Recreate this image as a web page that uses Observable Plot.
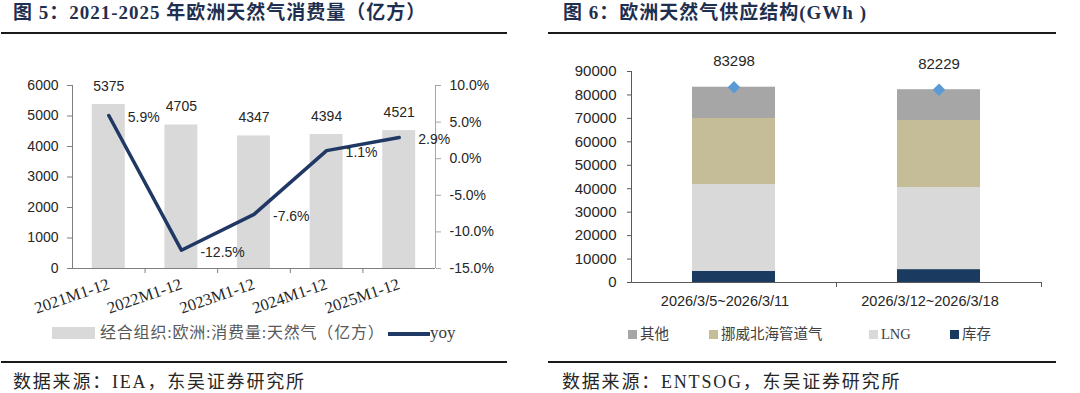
<!DOCTYPE html>
<html><head><meta charset="utf-8">
<script src="https://cdn.jsdelivr.net/npm/d3@7"></script>
<script src="https://cdn.jsdelivr.net/npm/@observablehq/plot@0.6"></script>
<style>
body{margin:0;background:#fff;}
#page{position:relative;width:1080px;height:393px;overflow:hidden;background:#fff;}
.abs{position:absolute;white-space:nowrap;}
.title{font-family:"Liberation Serif","Noto Sans CJK SC",serif;font-weight:bold;font-size:19px;line-height:19px;color:#1f2f4f;letter-spacing:1px;}
.rule{height:2px;background:#1a1a1a;}
.source{font-family:"Liberation Serif","Noto Sans CJK SC",serif;font-size:18px;line-height:18px;color:#262626;letter-spacing:1.8px;}
.leg{font-family:"Liberation Serif","Noto Sans CJK SC",serif;color:#595959;}
.chart{position:absolute;width:540px;height:280px;}
.chart svg{position:absolute;left:0;top:0;}
</style></head><body><div id="page">
<div class="abs title" style="left:13px;top:3px;">图 5：2021-2025 年欧洲天然气消费量（亿方）</div>
<div class="abs rule" style="left:1px;top:32px;width:506px;"></div>
<div class="abs title" style="left:563px;top:3px;">图 6：欧洲天然气供应结构(GWh )</div>
<div class="abs rule" style="left:548px;top:32px;width:508px;"></div>
<div id="left" class="chart" style="left:0;top:40px;"></div>
<div id="right" class="chart" style="left:540px;top:40px;"></div>
<div id="legL"></div>
<div id="legR"></div>
<div class="abs rule" style="left:1px;top:361px;width:506px;"></div>
<div class="abs rule" style="left:548px;top:361px;width:508px;"></div>
<div class="abs source" style="left:13px;top:373px;">数据来源：IEA，东吴证券研究所</div>
<div class="abs source" style="left:562px;top:373px;">数据来源：ENTSOG，东吴证券研究所</div>
</div>
<script>
// ---- Figure 5 data ----
const years = ["2021M1-12","2022M1-12","2023M1-12","2024M1-12","2025M1-12"];
const consumption = [5375, 4705, 4347, 4394, 4521];
const yoy = [5.9, -12.5, -7.6, 1.1, 2.9];
const leftYTicks = [0,1000,2000,3000,4000,5000,6000];
const rightYTicks = [-15,-10,-5,0,5,10];
const barLegend = "经合组织:欧洲:消费量:天然气（亿方）";
const lineLegend = "yoy";

// ---- Figure 6 data ----
const periods = ["2026/3/5~2026/3/11","2026/3/12~2026/3/18"];
const seriesNames = ["库存","LNG","挪威北海管道气","其他"];
const storage = [4700, 5500];
const lng = [37100, 35000];
const norway = [28150, 28600];
const other = [13348, 13129];
const totals = [83298, 82229];
const supplyTicks = [0,10000,20000,30000,40000,50000,60000,70000,80000,90000];
const seriesColors = ["#1b3a5f","#d9d9d9","#c4bd97","#a6a6a6"];

const SANS = "'Liberation Sans', Arial, sans-serif";
const SERIF = "'Liberation Serif', 'Noto Sans CJK SC', serif";
const idx = years.map((d,i)=>i);

const common = {width:540, height:280, marginLeft:72, marginRight:105, marginTop:45, marginBottom:52};

const bars = Plot.plot({
  ...common,
  x:{type:"linear", domain:[-0.5,4.5]},
  y:{domain:[0,6000]},
  style:{background:"transparent", fontFamily:SANS, fontSize:"14px", color:"#262626", overflow:"visible"},
  marks:[
    Plot.rectY(idx,{x1:i=>i-0.227, x2:i=>i+0.227, y:i=>consumption[i], fill:"#d9d9d9"}),
    Plot.text(idx,{x:i=>i, y:i=>consumption[i], text:i=>String(consumption[i]), dy:-18, fontSize:14, fill:"#262626"}),
    Plot.ruleX([-0.5],{stroke:"#7f7f7f"}),
    Plot.ruleY([0],{stroke:"#7f7f7f"}),
    Plot.axisY({ticks:leftYTicks, tickSize:5, tickPadding:9, tickFormat:d3.format("d"), label:null, stroke:"#7f7f7f", fill:"#262626"}),
    Plot.axisX({ticks:[0.5,1.5,2.5,3.5], tickSize:5, tickFormat:()=>"", label:null, stroke:"#7f7f7f"}),
    Plot.axisX({ticks:idx, tickSize:0, tickPadding:15, tickRotate:-19, tickFormat:i=>years[i], label:null, fontFamily:SERIF, fontSize:16.5, fill:"#262626"})
  ]
});

const line = Plot.plot({
  ...common,
  x:{type:"linear", domain:[-0.5,4.5], axis:null},
  y:{domain:[-15,10]},
  style:{background:"transparent", fontFamily:SANS, fontSize:"14px", color:"#262626", overflow:"visible"},
  marks:[
    Plot.ruleX([4.5],{stroke:"#a6a6a6"}),
    Plot.axisY({anchor:"right", ticks:rightYTicks, tickSize:5, tickPadding:9, tickFormat:d=>d.toFixed(1)+"%", label:null, stroke:"#a6a6a6", fill:"#262626"}),
    Plot.line(idx,{x:i=>i, y:i=>yoy[i], stroke:"#1f3864", strokeWidth:3.5}),
    Plot.text(idx,{x:i=>i, y:i=>yoy[i], text:i=>yoy[i].toFixed(1)+"%", textAnchor:"start", dx:19, dy:2, fontSize:14, fill:"#262626"})
  ]
});

document.getElementById("left").append(bars, line);

// ---- Figure 6 ----
const seriesValues = [storage, lng, norway, other];
const stackData = seriesNames.flatMap((s,k)=>periods.map((p,i)=>({i, s, v:seriesValues[k][i]})));
const pIdx = periods.map((d,i)=>i);

const stacked = Plot.plot({
  width:540, height:280, marginLeft:91, marginRight:39, marginTop:31, marginBottom:38,
  x:{type:"linear", domain:[-0.5,1.5]},
  y:{domain:[0,90000]},
  color:{domain:seriesNames, range:seriesColors},
  style:{background:"transparent", fontFamily:SANS, fontSize:"15px", color:"#262626", overflow:"visible"},
  marks:[
    Plot.rectY(stackData,{x1:d=>d.i-0.2025, x2:d=>d.i+0.2025, y:"v", fill:"s"}),
    Plot.ruleX([-0.5],{stroke:"#595959"}),
    Plot.ruleY([0],{stroke:"#595959"}),
    Plot.axisY({ticks:supplyTicks, tickSize:4, tickPadding:11, tickFormat:d3.format("d"), label:null, stroke:"#595959", fill:"#262626", fontSize:15}),
    Plot.axisX({ticks:[0.5,1.5], tickSize:5, tickFormat:()=>"", label:null, stroke:"#595959"}),
    Plot.axisX({ticks:pIdx, tickSize:0, tickPadding:13, tickFormat:i=>periods[i], label:null, dx:-9, fontSize:14.5, fill:"#262626"}),
    Plot.dot(pIdx,{x:i=>i, y:i=>totals[i], symbol:"diamond2", r:5.6, fill:"#5b9bd5", stroke:"none"}),
    Plot.text(pIdx,{x:i=>i, y:i=>totals[i], text:i=>String(totals[i]), dy:-26, fontSize:15, fill:"#262626"})
  ]
});
document.getElementById("right").append(stacked);

// ---- legends ----
const legL = document.getElementById("legL");
legL.innerHTML =
  `<div class="abs" style="left:52px;top:327px;width:43px;height:12px;background:#d9d9d9;"></div>`+
  `<div class="abs leg" style="left:100px;top:325px;font-size:16px;line-height:16px;letter-spacing:0.8px;">${barLegend}</div>`+
  `<div class="abs" style="left:388px;top:332px;width:42px;height:3.5px;background:#1f3864;"></div>`+
  `<div class="abs leg" style="left:430px;top:324px;font-size:17px;line-height:17px;color:#404040;">${lineLegend}</div>`;

const legR = document.getElementById("legR");
const legOrder = [3,2,1,0];
const legX = [628,709,869,950];
legR.innerHTML = legOrder.map((k,j)=>
  `<div class="abs" style="left:${legX[j]}px;top:330px;width:9px;height:9px;background:${seriesColors[k]};"></div>`+
  `<div class="abs leg" style="left:${legX[j]+12}px;top:327px;font-size:14.5px;line-height:15px;color:#404040;">${seriesNames[k]}</div>`
).join("");
</script>
</body></html>
